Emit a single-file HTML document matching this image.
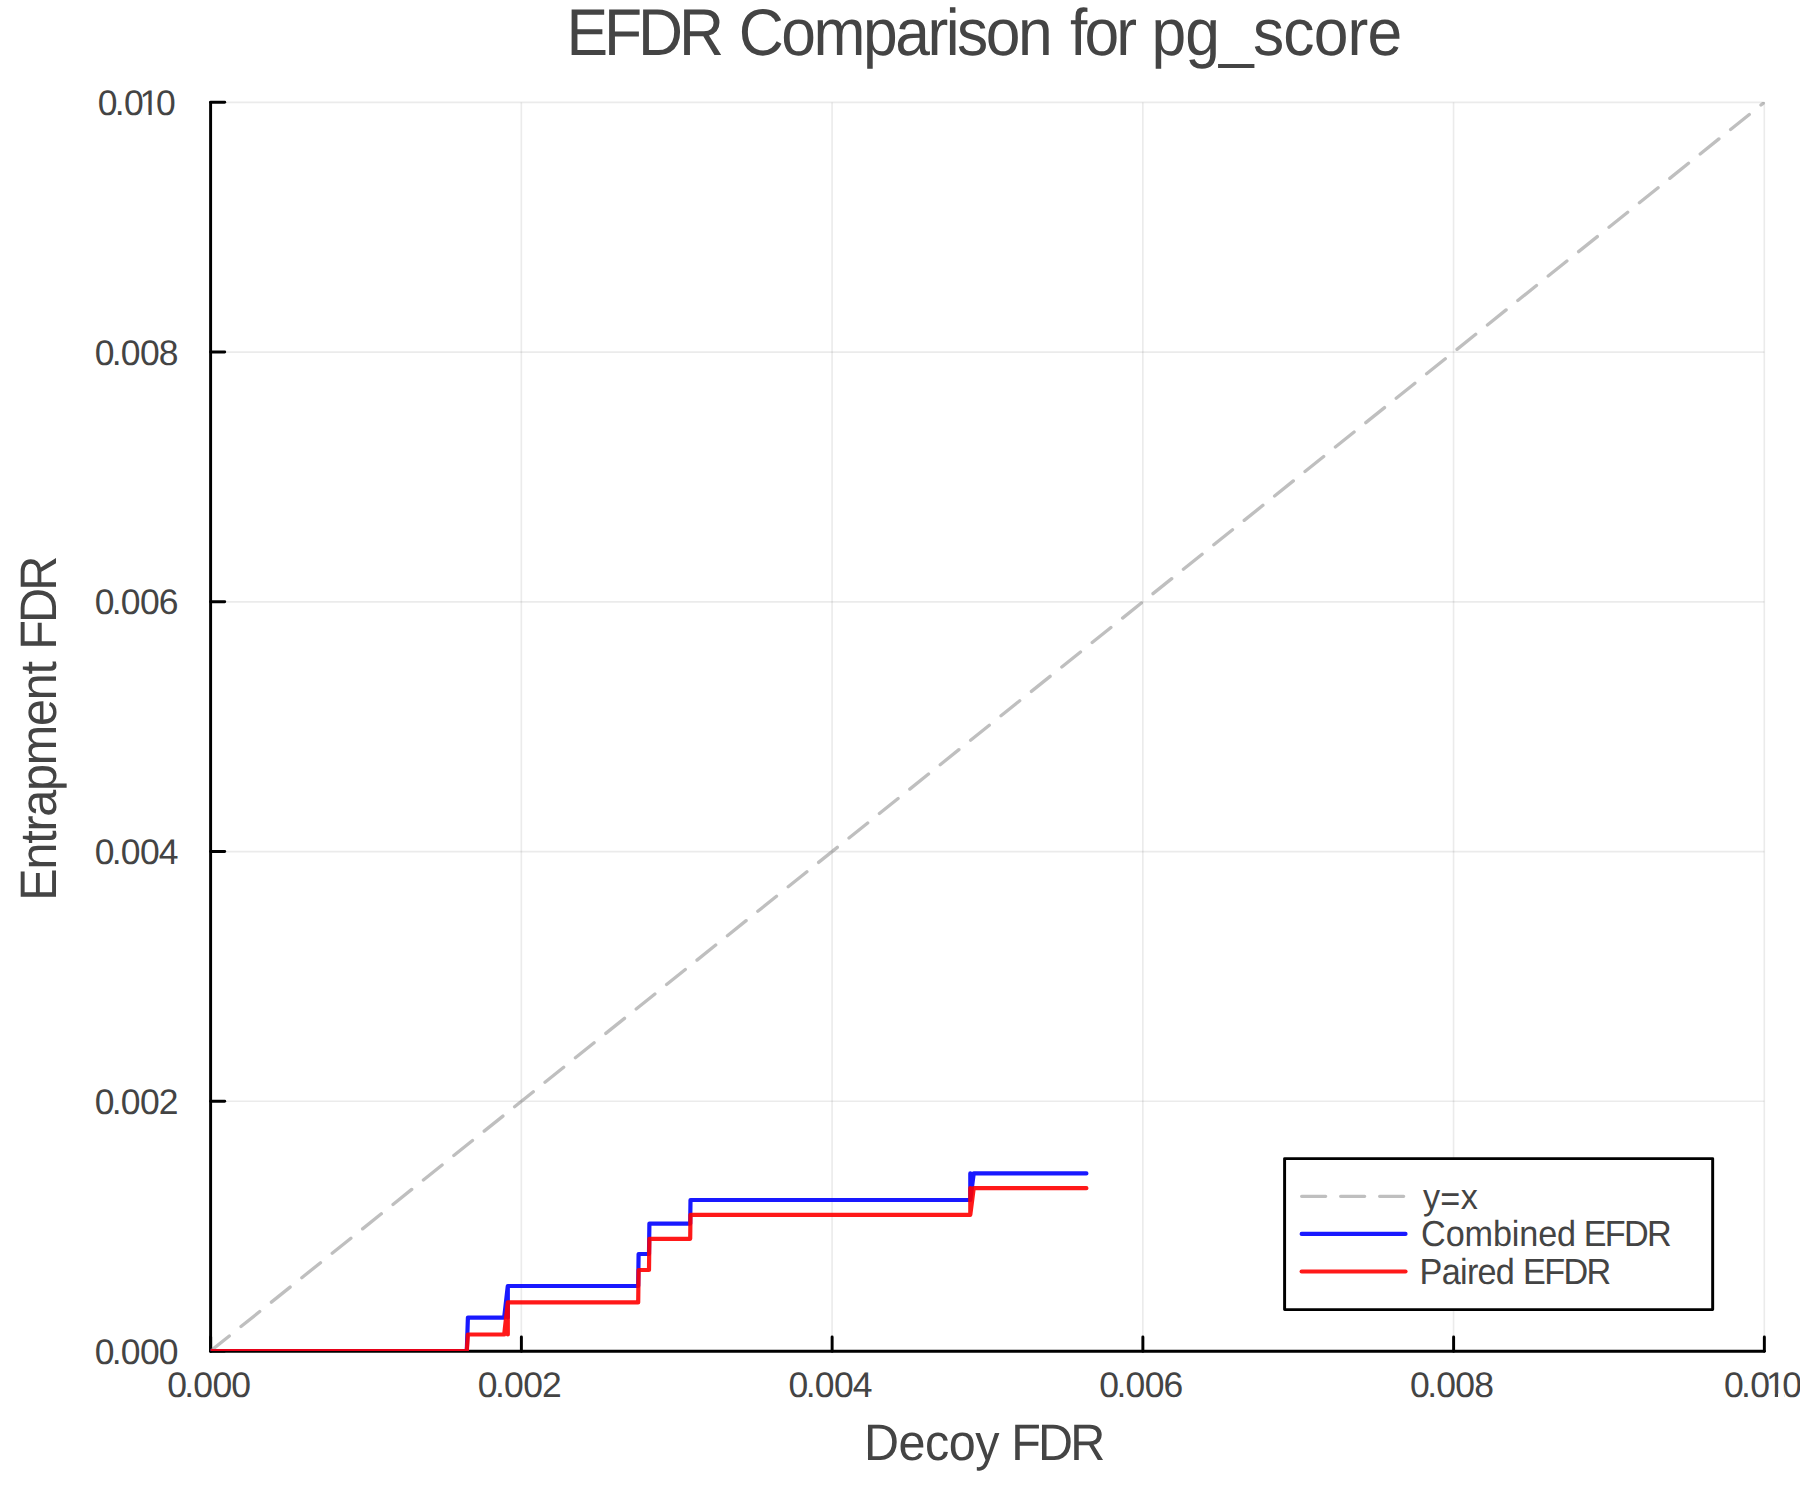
<!DOCTYPE html>
<html lang="en"><head><meta charset="utf-8"><title>EFDR Comparison for pg_score</title>
<style>
html,body{margin:0;padding:0;background:#fff;}
body{width:1800px;height:1500px;overflow:hidden;}
svg{display:block;font-family:"Liberation Sans",sans-serif;}
text{fill:#444444;text-rendering:geometricPrecision;}
</style></head><body>
<svg width="1800" height="1500" viewBox="0 0 1800 1500">
<rect x="0" y="0" width="1800" height="1500" fill="#ffffff"/>
<defs><clipPath id="plotclip"><rect x="210.60" y="101.90" width="1554.20" height="1249.10"/></clipPath>
<clipPath id="c010"><path clip-rule="evenodd" d="M-10 -40H100V15H-10Z M42.7 -3.1H49.42V0.6H42.7Z M52.62 -3.1H59V0.6H52.62Z"/></clipPath></defs>

<g stroke="#000" stroke-opacity="0.08" stroke-width="1.67" fill="none">
<line x1="210.60" y1="102.40" x2="210.60" y2="1351.00"/>
<line x1="521.34" y1="102.40" x2="521.34" y2="1351.00"/>
<line x1="832.08" y1="102.40" x2="832.08" y2="1351.00"/>
<line x1="1142.82" y1="102.40" x2="1142.82" y2="1351.00"/>
<line x1="1453.56" y1="102.40" x2="1453.56" y2="1351.00"/>
<line x1="1764.30" y1="102.40" x2="1764.30" y2="1351.00"/>
<line x1="210.60" y1="1351.00" x2="1764.30" y2="1351.00"/>
<line x1="210.60" y1="1101.28" x2="1764.30" y2="1101.28"/>
<line x1="210.60" y1="851.56" x2="1764.30" y2="851.56"/>
<line x1="210.60" y1="601.84" x2="1764.30" y2="601.84"/>
<line x1="210.60" y1="352.12" x2="1764.30" y2="352.12"/>
<line x1="210.60" y1="102.40" x2="1764.30" y2="102.40"/>
</g>
<g stroke="#000" stroke-width="2.95" fill="none" stroke-linecap="round">
<line x1="210.60" y1="1351.20" x2="1764.30" y2="1351.20"/>
<line x1="210.60" y1="102.40" x2="210.60" y2="1351.20"/>
<line x1="210.65" y1="1351.20" x2="210.65" y2="1337.00"/>
<line x1="521.39" y1="1351.20" x2="521.39" y2="1337.00"/>
<line x1="832.13" y1="1351.20" x2="832.13" y2="1337.00"/>
<line x1="1142.87" y1="1351.20" x2="1142.87" y2="1337.00"/>
<line x1="1453.61" y1="1351.20" x2="1453.61" y2="1337.00"/>
<line x1="1764.35" y1="1351.20" x2="1764.35" y2="1337.00"/>
<line x1="210.60" y1="1350.90" x2="224.70" y2="1350.90"/>
<line x1="210.60" y1="1101.18" x2="224.70" y2="1101.18"/>
<line x1="210.60" y1="851.46" x2="224.70" y2="851.46"/>
<line x1="210.60" y1="601.74" x2="224.70" y2="601.74"/>
<line x1="210.60" y1="352.02" x2="224.70" y2="352.02"/>
<line x1="210.60" y1="102.30" x2="224.70" y2="102.30"/>
</g>
<g clip-path="url(#plotclip)" fill="none" stroke-linecap="round" stroke-linejoin="round">
<line x1="210.60" y1="1351.00" x2="1764.30" y2="102.40" stroke="#808080" stroke-opacity="0.5" stroke-width="3.3" stroke-dasharray="24 15"/>
<path d="M210.6 1351.0 L466.8 1351.0 L467.9 1317.6 L504.2 1317.6 L507.8 1286.0 L507.8 1317.6 L507.8 1286.0 L638.2 1286.0 L638.6 1254.0 L649.0 1254.0 L649.4 1223.6 L690.2 1223.6 L690.5 1200.0 L970.3 1200.0 L970.3 1173.4 L970.3 1200.0 L973.7 1173.4 L1086.4 1173.4" stroke="#0000ff" stroke-opacity="0.9" stroke-width="4.2"/>
<path d="M210.6 1351.0 L466.8 1351.0 L467.9 1334.5 L504.2 1334.5 L507.8 1302.4 L507.8 1334.5 L507.8 1302.4 L638.2 1302.4 L638.6 1270.0 L649.0 1270.0 L649.4 1238.8 L690.2 1238.8 L690.5 1214.8 L970.3 1214.8 L970.3 1188.2 L970.3 1214.8 L973.7 1188.2 L1086.4 1188.2" stroke="#ff0000" stroke-opacity="0.9" stroke-width="4.2"/>
</g>
<g font-size="35.50">
<text transform="matrix(1 0.0003 0 1 168.50 1396.70)" x="-1.38 15.77 24.72 43.92 62.70" y="0">0.000</text>
<text transform="matrix(1 0.0003 0 1 479.24 1396.70)" x="-1.38 15.77 24.72 43.92 62.70" y="0">0.002</text>
<text transform="matrix(1 0.0003 0 1 789.98 1396.70)" x="-1.38 15.77 24.72 43.92 62.70" y="0">0.004</text>
<text transform="matrix(1 0.0003 0 1 1100.72 1396.70)" x="-1.38 15.77 24.72 43.92 62.70" y="0">0.006</text>
<text transform="matrix(1 0.0003 0 1 1411.46 1396.70)" x="-1.38 15.77 24.72 43.92 62.70" y="0">0.008</text>
<text transform="matrix(1 0.0003 0 1 1725.40 1396.70)" x="-1.38 15.67 24.82 40.52 56.82" y="0" clip-path="url(#c010)">0.010</text>
<text transform="matrix(1 0.0003 0 1 96.00 1363.60)" x="-1.38 15.77 24.72 43.92 62.70" y="0">0.000</text>
<text transform="matrix(1 0.0003 0 1 96.00 1113.88)" x="-1.38 15.77 24.72 43.92 62.70" y="0">0.002</text>
<text transform="matrix(1 0.0003 0 1 96.00 864.16)" x="-1.38 15.77 24.72 43.92 62.70" y="0">0.004</text>
<text transform="matrix(1 0.0003 0 1 96.00 614.44)" x="-1.38 15.77 24.72 43.92 62.70" y="0">0.006</text>
<text transform="matrix(1 0.0003 0 1 96.00 364.72)" x="-1.38 15.77 24.72 43.92 62.70" y="0">0.008</text>
<text transform="matrix(1 0.0003 0 1 99.10 115.00)" x="-1.38 15.67 24.82 40.52 56.82" y="0" clip-path="url(#c010)">0.010</text>
</g>
<text transform="matrix(0.9450 0.0003 0 1 566.59 54.70)" font-size="66.00"><tspan x="0.00" letter-spacing="-4.363">EFDR</tspan> <tspan x="182.26" letter-spacing="-2.629">Comparison</tspan> <tspan x="532.84" letter-spacing="-3.072">for</tspan> <tspan x="618.88" letter-spacing="-0.890">pg_score</tspan></text>
<text transform="matrix(0.9450 0.0003 0 1 864.10 1459.60)" font-size="51.30"><tspan x="0.00" letter-spacing="-0.543">Decoy</tspan> <tspan x="155.77" letter-spacing="-2.987">FDR</tspan></text>
<text transform="translate(55.6 896.7) rotate(-90) matrix(0.9450 0.0003 0 1 -4.00 0.00)" font-size="51.30"><tspan x="0.00" letter-spacing="-1.281">Entrapment</tspan> <tspan x="265.61" letter-spacing="-3.056">FDR</tspan></text>
<rect x="1284.6" y="1158.6" width="428.07" height="151.0" fill="#fff" stroke="#000" stroke-width="2.95" stroke-linejoin="round"/>
<g fill="none" stroke-linecap="round">
<line x1="1301.65" y1="1196.3" x2="1405.5" y2="1196.3" stroke="#808080" stroke-opacity="0.5" stroke-width="3.3" stroke-dasharray="24 15"/>
<line x1="1301.65" y1="1233.9" x2="1405.5" y2="1233.9" stroke="#0000ff" stroke-opacity="0.9" stroke-width="4.2"/>
<line x1="1301.65" y1="1271.5" x2="1405.5" y2="1271.5" stroke="#ff0000" stroke-opacity="0.9" stroke-width="4.2"/>
</g>
<text transform="matrix(0.9450 0.0003 0 1 1422.94 1208.80)" font-size="36.20"><tspan x="0.00" letter-spacing="0.331">y<tspan dy="2.2">=</tspan><tspan dy="-2.2">x</tspan></tspan></text>
<text transform="matrix(0.9450 0.0003 0 1 1421.06 1246.40)" font-size="36.20"><tspan x="0.00" letter-spacing="-0.130">Combined</tspan> <tspan x="172.11" letter-spacing="-1.760">EFDR</tspan></text>
<text transform="matrix(0.9450 0.0003 0 1 1419.60 1284.00)" font-size="36.20"><tspan x="0.00" letter-spacing="-0.753">Paired</tspan> <tspan x="109.52" letter-spacing="-1.803">EFDR</tspan></text>
</svg></body></html>
